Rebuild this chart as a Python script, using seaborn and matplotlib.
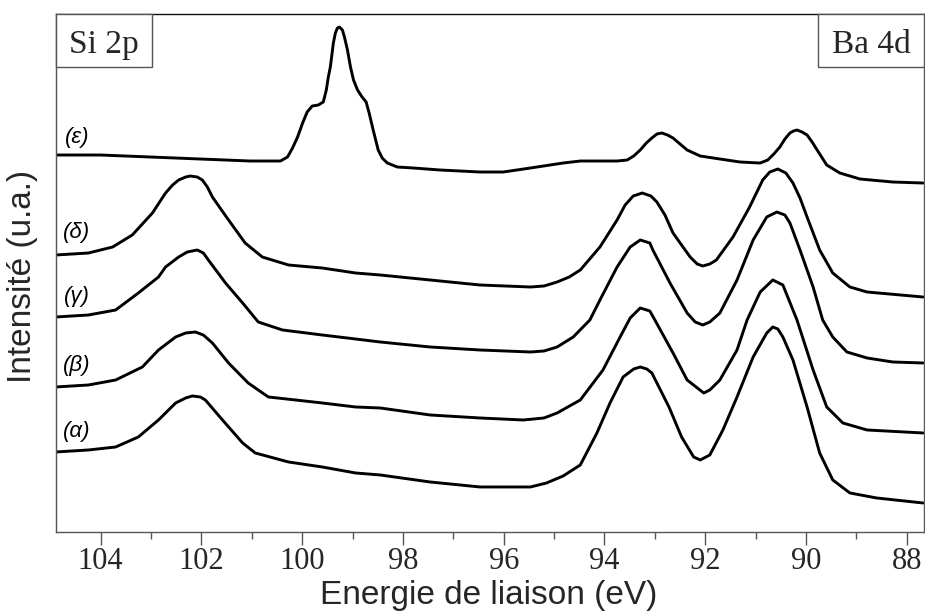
import matplotlib
matplotlib.use("Agg")
import matplotlib.pyplot as plt
import matplotlib.patches as mpatches
from matplotlib.ticker import MultipleLocator
import seaborn as sns

# =====================================================
# Données (énergie en eV, intensité en u.a.)
# =====================================================
energie_eps = [104.89, 104.00, 103.01, 102.02, 101.03, 100.43, 100.29, 100.19, 100.09, 99.99,
               99.90, 99.80, 99.68, 99.58, 99.52, 99.48, 99.44, 99.38, 99.34, 99.30,
               99.26, 99.20, 99.16, 99.10, 99.04, 98.98, 98.90, 98.81, 98.73, 98.67,
               98.59, 98.49, 98.41, 98.31, 98.11, 97.79, 97.26, 96.47, 96.01, 95.47,
               94.82, 94.48, 93.75, 93.55, 93.42, 93.29, 93.17, 93.06, 92.96, 92.86,
               92.75, 92.64, 92.50, 92.36, 92.10, 91.71, 91.31, 90.91, 90.76, 90.64,
               90.52, 90.42, 90.32, 90.25, 90.18, 90.08, 89.98, 89.88, 89.78, 89.59,
               89.33, 88.93, 88.28, 87.68]
intensite_eps = [377, 377, 375, 373, 371, 371, 375, 384, 395, 409,
                 420, 426, 427, 430, 442, 455, 465, 489, 499, 504,
                 505, 502, 495, 482, 465, 452, 442, 435, 430, 419,
                 402, 382, 374, 369, 365, 364, 362, 360, 360, 364,
                 369, 371, 371, 372, 376, 382, 389, 394, 398, 399,
                 397, 394, 388, 382, 376, 373, 370, 369, 372, 378,
                 385, 393, 399, 401, 402, 400, 397, 390, 382, 367,
                 359, 353, 350, 349]

energie_delta = [104.89, 104.24, 103.76, 103.37, 102.97, 102.71, 102.57, 102.45, 102.31, 102.22,
                 102.08, 101.98, 101.88, 101.78, 101.46, 101.13, 100.79, 100.27, 99.60, 98.94,
                 98.45, 97.46, 96.47, 95.47, 95.20, 94.94, 94.70, 94.48, 94.09, 93.75,
                 93.59, 93.43, 93.25, 93.08, 92.96, 92.80, 92.64, 92.30, 92.16, 92.05,
                 91.91, 91.78, 91.45, 91.12, 90.86, 90.72, 90.56, 90.40, 90.26, 90.12,
                 89.98, 89.73, 89.47, 89.13, 88.79, 87.68]
intensite_delta = [277, 279, 285, 297, 319, 339, 347, 352, 355, 356,
                   355, 352, 345, 335, 312, 289, 275, 267, 264, 259,
                   257, 252, 247, 245, 246, 250, 255, 262, 285, 312,
                   327, 336, 339, 336, 330, 317, 299, 275, 268, 266,
                   268, 272, 295, 325, 352, 360, 363, 359, 349, 334,
                   315, 282, 259, 245, 240, 235]

energie_gamma = [104.89, 104.24, 103.70, 103.25, 102.85, 102.71, 102.45, 102.28, 102.08, 101.96,
                 101.86, 101.52, 101.18, 100.87, 100.39, 99.60, 98.94, 98.45, 97.46, 96.47,
                 95.47, 95.20, 94.94, 94.62, 94.29, 94.09, 93.75, 93.49, 93.29, 93.10,
                 93.04, 92.70, 92.36, 92.20, 92.05, 91.91, 91.71, 91.37, 91.05, 90.78,
                 90.58, 90.42, 90.32, 90.12, 89.86, 89.67, 89.47, 89.19, 88.79, 88.28,
                 87.68]
intensite_gamma = [215, 217, 222, 239, 255, 265, 275, 280, 282, 279,
                   272, 249, 229, 210, 202, 197, 193, 190, 185, 182,
                   180, 181, 185, 195, 212, 232, 265, 285, 292, 289,
                   282, 249, 219, 210, 207, 210, 219, 252, 292, 315,
                   320, 317, 309, 282, 245, 212, 195, 180, 174, 170,
                   169]

energie_beta = [104.89, 104.24, 103.70, 103.17, 102.85, 102.51, 102.31, 102.12, 101.96, 101.78,
                101.46, 101.07, 100.67, 100.13, 99.60, 98.94, 98.45, 97.46, 96.47, 95.61,
                95.20, 94.94, 94.48, 94.03, 93.69, 93.49, 93.29, 93.10, 93.00, 92.64,
                92.36, 92.03, 91.91, 91.71, 91.37, 91.17, 90.91, 90.66, 90.46, 90.18,
                89.86, 89.59, 89.27, 88.79, 87.68]
intensite_beta = [145, 147, 152, 165, 182, 195, 199, 200, 197, 189,
                  169, 149, 135, 132, 129, 125, 124, 117, 114, 112,
                  114, 119, 132, 162, 195, 214, 224, 221, 212, 179,
                  152, 139, 142, 152, 182, 212, 240, 252, 247, 212,
                  162, 125, 109, 102, 99]

energie_alpha = [104.89, 104.24, 103.70, 103.25, 102.85, 102.51, 102.31, 102.18, 102.02, 101.92,
                 101.58, 101.18, 100.93, 100.27, 99.60, 98.94, 98.45, 97.46, 96.47, 95.47,
                 95.15, 94.82, 94.48, 94.15, 93.89, 93.63, 93.42, 93.29, 93.16, 93.06,
                 92.72, 92.47, 92.23, 92.10, 91.91, 91.65, 91.37, 91.05, 90.78, 90.66,
                 90.56, 90.46, 90.26, 89.98, 89.73, 89.47, 89.13, 88.60, 87.68]
intensite_alpha = [80, 82, 85, 95, 112, 129, 134, 136, 135, 132,
                   112, 89, 79, 70, 65, 59, 57, 50, 45, 45,
                   49, 56, 67, 99, 129, 155, 163, 165, 163, 159,
                   125, 95, 75, 72, 77, 102, 135, 175, 199, 205,
                   203, 195, 172, 125, 79, 52, 39, 34, 29]

courbes = [
    ("(ε)", energie_eps, intensite_eps, 395),
    ("(δ)", energie_delta, intensite_delta, 300),
    ("(γ)", energie_gamma, intensite_gamma, 235),
    ("(β)", energie_beta, intensite_beta, 166),
    ("(α)", energie_alpha, intensite_alpha, 100),
]

ticks_majeurs = [104, 102, 100, 98, 96, 94, 92, 90, 88]

# =====================================================
# Figure
# =====================================================
sns.set_theme(style="ticks")
plt.rcParams['font.family'] = ['Liberation Sans', 'DejaVu Sans']

fig = plt.figure(figsize=(9.25, 6.15), dpi=100)
ax = fig.add_axes([0.0602, 0.135, 0.9387, 0.8422])

for nom, en, inten, y_label in courbes:
    sns.lineplot(x=en, y=inten, ax=ax, color='black', lw=2.1, estimator=None,
                 solid_joinstyle='round', solid_capstyle='round')
    ax.text(104.47, y_label, nom, fontsize=16, style='italic',
            ha='center', va='center', color='black')

ax.set_xlim(104.89, 87.66)
ax.set_ylim(0, 518)
ax.set_yticks([])
ax.set_xticks(ticks_majeurs)
ax.set_xticklabels([str(t) for t in ticks_majeurs], family='Liberation Serif', fontsize=22)
ax.xaxis.set_minor_locator(MultipleLocator(1))
ax.tick_params(axis='x', which='major', direction='out', length=9, width=1,
               color='#555555', pad=2)
ax.tick_params(axis='x', which='minor', direction='out', length=5, width=1,
               color='#555555')

for cote, spine in ax.spines.items():
    spine.set_visible(True)
    spine.set_linewidth(1.0)
    spine.set_color('#111111' if cote == 'top' else '#555555')

ax.set_xlabel('Energie de liaison (eV)', fontsize=24)
ax.xaxis.set_label_coords(0.499, -0.093)
ax.set_ylabel('Intensité (u.a.)', fontsize=24)
ax.yaxis.set_label_coords(-0.02, 0.494)

# Encadrés Si 2p / Ba 4d
for x0, larg, texte, xc in [(0.0, 0.111, 'Si 2p', 0.0553), (0.878, 0.122, 'Ba 4d', 0.939)]:
    ax.add_patch(mpatches.Rectangle((x0, 0.8977), larg, 0.1023, transform=ax.transAxes,
                                    facecolor='white', edgecolor='#555555', lw=1.0,
                                    clip_on=False, zorder=3))
    ax.text(xc, 0.9247, texte, transform=ax.transAxes, family='Liberation Serif',
            fontsize=24, ha='center', va='baseline', zorder=4)

fig.savefig('out.png', dpi=100)
plt.close(fig)
